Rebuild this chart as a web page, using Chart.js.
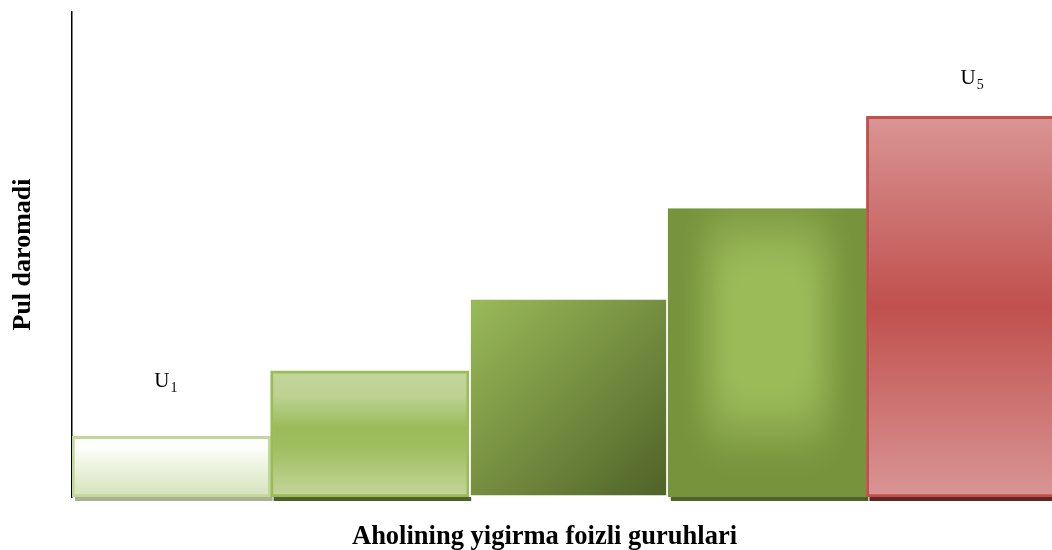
<!DOCTYPE html>
<html>
<head>
<meta charset="utf-8">
<title>Pul daromadi</title>
<script src="https://cdn.jsdelivr.net/npm/chart.js@4.4.1/dist/chart.umd.min.js"></script>
<style>
    html, body { margin: 0; padding: 0; background: #ffffff; overflow: hidden; }
    #rahmen { width: 1052px; height: 550px; overflow: hidden; }
    #box { width: 1067px; height: 550px; }
</style>
</head>
<body>
<div id="rahmen"><div id="box"><canvas id="myChart"></canvas></div></div>
<script>
// --- Daten ---
const gruppen = ['U1', 'U2', 'U3', 'U4', 'U5'];
const daromad = [12.5, 26, 41, 59.5, 78.5];
const belgiAsos = ['U', '', '', '', 'U'];     // Beschriftung über dem Balken
const belgiIndeks = ['1', '', '', '', '5'];   // tiefgestellte Ziffer
const yMax = 100;
const yTitel = 'Pul daromadi';
const xTitel = 'Aholining yigirma foizli guruhlari';

// --- Aussehen der Balken ---
const balkenStil = [
    { typ: 'vertikal', stops: [[0, '#ffffff'], [0.2, '#fbfdf8'], [1, '#d5e3ba']], rand: '#c3d69b', dicke: 3, schatten: '#a8b292' },
    { typ: 'vertikal', stops: [[0, '#c3d69b'], [0.2, '#bcd292'], [0.45, '#9bbb59'], [0.6, '#9fbe5f'], [1, '#c3d69b']], rand: '#9bbb59', dicke: 3, schatten: '#4f6228' },
    { typ: 'diagonal', stops: [[0, '#9bbb59'], [1, '#4f6228']], rand: '#ffffff', dicke: 2, schatten: null },
    { typ: 'kasten', hell: [155, 187, 89], dunkel: [119, 147, 60], rand: 'rgba(0,0,0,0)', dicke: 0, schatten: '#4f6228' },
    { typ: 'vertikal', stops: [[0, '#d99594'], [0.5, '#c0504d'], [1, '#d99594']], rand: '#c0504d', dicke: 3, schatten: '#632523' }
];
// Verschiebung der Beschriftung gegenüber der Balkenmitte / Balkenoberkante
const belgiVersatz = [{ dx: -6, dy: -49 }, null, null, null, { dx: 6, dy: -32 }];

const serif = "'Liberation Serif', 'Times New Roman', serif";

// Kasten-Verlauf: hell in der Mitte, dunkler zum Rand
function kastenMuster(w, h, hell, dunkel) {
    const c = document.createElement('canvas');
    c.width = Math.max(1, Math.ceil(w));
    c.height = Math.max(1, Math.ceil(h));
    const cc = c.getContext('2d');
    const img = cc.createImageData(c.width, c.height);
    for (let y = 0; y < c.height; y++) {
        for (let x = 0; x < c.width; x++) {
            const dx = Math.abs((x + 0.5) - w / 2) / (w / 2);
            const dy = Math.abs((y + 0.5) - h * 0.42) / (h * 0.58);
            const d = Math.pow(Math.pow(dx, 4) + Math.pow(dy, 4), 1 / 4);
            let t = (d - 0.3) / 0.62;
            t = Math.min(1, Math.max(0, t));
            t = t * t * (3 - 2 * t);
            const p = (y * c.width + x) * 4;
            for (let k = 0; k < 3; k++) img.data[p + k] = Math.round(hell[k] + (dunkel[k] - hell[k]) * t);
            img.data[p + 3] = 255;
        }
    }
    cc.putImageData(img, 0, 0);
    return c;
}

function fuellung(context) {
    const chart = context.chart;
    if (!chart.chartArea || context.type !== 'data') return 'rgba(0,0,0,0)';
    const i = context.dataIndex;
    const stil = balkenStil[i];
    const g = chart.ctx;
    const xs = chart.scales.x;
    const ys = chart.scales.y;
    const breite = xs.width / gruppen.length;
    const links = xs.getPixelForValue(i) - breite / 2;
    const rechts = links + breite;
    const oben = ys.getPixelForValue(daromad[i]);
    const unten = ys.getPixelForValue(0);

    if (stil.typ === 'kasten') {
        const bild = kastenMuster(breite, unten - oben, stil.hell, stil.dunkel);
        const muster = g.createPattern(bild, 'no-repeat');
        muster.setTransform(new DOMMatrix().translate(links, oben));
        return muster;
    }
    let verlauf;
    if (stil.typ === 'diagonal') {
        verlauf = g.createLinearGradient(links, oben, rechts, unten);
    } else {
        verlauf = g.createLinearGradient(0, oben, 0, unten);
    }
    stil.stops.forEach(s => verlauf.addColorStop(s[0], s[1]));
    return verlauf;
}

// Schatten unter den Balken
const schattenPlugin = {
    id: 'schatten',
    beforeDatasetsDraw(chart) {
        const g = chart.ctx;
        chart.getDatasetMeta(0).data.forEach((bar, i) => {
            const s = balkenStil[i].schatten;
            if (!s) return;
            g.save();
            g.fillStyle = s;
            g.fillRect(bar.x - bar.width / 2 + 3, bar.base - 2, bar.width - 1, 6);
            g.restore();
        });
    }
};

// U1 ... U5 über den Balken
const belgiPlugin = {
    id: 'belgi',
    afterDatasetsDraw(chart) {
        const g = chart.ctx;
        chart.getDatasetMeta(0).data.forEach((bar, i) => {
            if (!belgiAsos[i]) return;
            const v = belgiVersatz[i] || { dx: 0, dy: -40 };
            g.save();
            g.fillStyle = '#000000';
            g.textBaseline = 'alphabetic';
            g.font = '21px ' + serif;
            const w1 = g.measureText(belgiAsos[i]).width;
            g.font = '14px ' + serif;
            const w2 = g.measureText(belgiIndeks[i]).width;
            const x0 = bar.x + v.dx - (w1 + w2) / 2;
            const yb = bar.y + v.dy;
            g.font = '21px ' + serif;
            g.fillText(belgiAsos[i], x0, yb);
            g.font = '14px ' + serif;
            g.fillText(belgiIndeks[i], x0 + w1 + 1, yb + 5);
            g.restore();
        });
    }
};

// Titel der x-Achse (leicht links der Mitte wie im Original)
const xTitelPlugin = {
    id: 'xTitel',
    afterDraw(chart) {
        const g = chart.ctx;
        const a = chart.chartArea;
        g.save();
        g.fillStyle = '#000000';
        g.font = 'bold 26.5px ' + serif;
        g.textAlign = 'center';
        g.textBaseline = 'middle';
        g.fillText(xTitel, (a.left + a.right) / 2 - 24, 537);
        g.restore();
    }
};

function renderChart() {
    const ctx = document.getElementById('myChart').getContext('2d');
    new Chart(ctx, {
        type: 'bar',
        data: {
            labels: gruppen,
            datasets: [{
                data: daromad,
                backgroundColor: fuellung,
                borderColor: balkenStil.map(s => s.rand),
                borderWidth: balkenStil.map(s => s.dicke),
                borderSkipped: false,
                barPercentage: 1,
                categoryPercentage: 1
            }]
        },
        options: {
            responsive: true,
            maintainAspectRatio: false,
            animation: false,
            layout: { padding: { left: 8, right: 2, top: 12, bottom: 53 } },
            plugins: {
                legend: { display: false },
                tooltip: { enabled: false }
            },
            scales: {
                x: { display: false },
                y: {
                    min: 0,
                    max: yMax,
                    grid: { display: false, drawTicks: false },
                    ticks: { display: false },
                    border: { display: true, color: '#000000', width: 1.5 },
                    title: {
                        display: true,
                        text: yTitel,
                        color: '#000000',
                        font: { family: serif, size: 26, weight: 'bold', lineHeight: 1.2 },
                        padding: { top: 0, bottom: 32.8 }
                    }
                }
            }
        },
        plugins: [schattenPlugin, belgiPlugin, xTitelPlugin]
    });
}

renderChart();
</script>
</body>
</html>
